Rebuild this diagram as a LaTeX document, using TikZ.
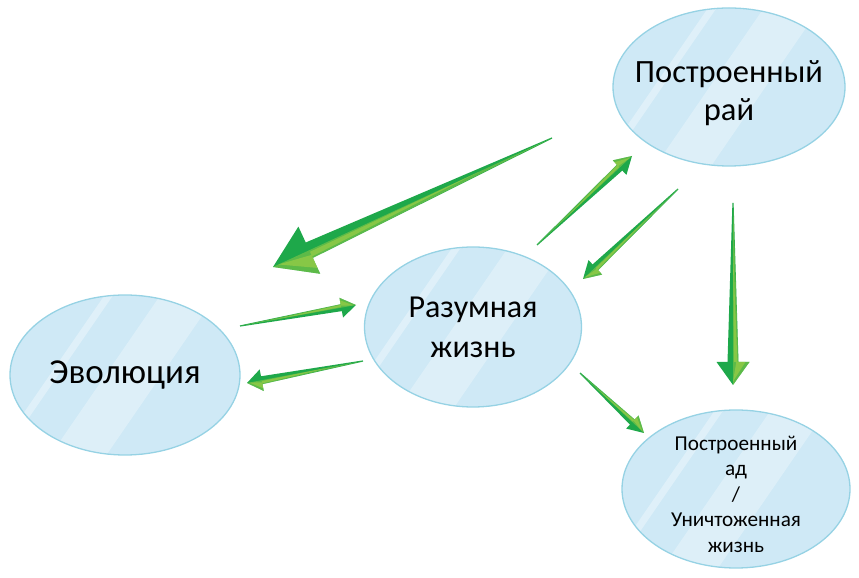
\documentclass[tikz,border=0pt]{standalone}
\usepackage{fontspec}
\setmainfont{Carlito}
\usetikzlibrary{shapes.geometric,calc}
\definecolor{bubblefill}{RGB}{207,233,246}
\definecolor{bubbleline}{RGB}{150,210,228}
\definecolor{gdark}{RGB}{30,168,74}
\definecolor{glight}{RGB}{170,210,70}
\tikzset{
  bubble/.style={ellipse,draw=bubbleline,line width=1.3pt,fill=bubblefill,inner sep=0pt,
    path picture={
      \coordinate (bc) at (path picture bounding box.center);
      \fill[white,opacity=.35] ($(bc)+(-34.5:-62)+(55.5:-200)$) -- ($(bc)+(-34.5:-62)+(55.5:200)$)
        -- ($(bc)+(-34.5:-55)+(55.5:200)$) -- ($(bc)+(-34.5:-55)+(55.5:-200)$) -- cycle;
      \fill[white,opacity=.3] ($(bc)+(-34.5:-16)+(55.5:-200)$) -- ($(bc)+(-34.5:-16)+(55.5:200)$)
        -- ($(bc)+(-34.5:30)+(55.5:200)$) -- ($(bc)+(-34.5:30)+(55.5:-200)$) -- cycle;
    }},
  btext/.style={align=center,inner sep=0pt},
  arrowbody/.style={fill=gdark},
  arrowmid/.style={fill=glight,opacity=.45},
  arrowshine/.style={fill=glight,opacity=.55},
}
% #1 tail, #2 tip, #3 head length, #4 head half width, #5 shaft half width
\newcommand\greenarrow[5]{%
  \coordinate (gh) at ($(#2)!#3!(#1)$);
  \fill[arrowbody]
    (#2) -- ($(gh)!#4!90:(#1)$) -- ($(gh)!#5!90:(#1)$)
    -- ($(#1)!0.6pt!-90:(#2)$) -- ($(#1)!0.6pt!90:(#2)$)
    -- ($(gh)!#5!-90:(#1)$) -- ($(gh)!#4!-90:(#1)$) -- cycle;
  \fill[arrowmid]
    (#2) -- ($(gh)!#4!-90:(#1)$) -- ($(gh)!#5!-90:(#1)$) -- (#1) -- cycle;
  \fill[arrowshine]
    ($(#2)!.15!(gh)$) -- ($(gh)!.75*#4!-90:(#1)$) -- ($(gh)!.2*#4!-90:(#1)$) -- cycle
    ($(gh)!.2*#5!-90:(#1)$) -- ($(gh)!.8*#5!-90:(#1)$) -- ($(#1)!.3!(gh)$) -- cycle;
}

\begin{document}
\begin{tikzpicture}[x=1pt,y=1pt]
  \useasboundingbox (0,0) rectangle (859,578);
  % the four bubbles
  \node[bubble,minimum width=230,minimum height=160] (evo)   at (125,203) {};
  \node[bubble,minimum width=217,minimum height=160] (razum) at (473,251) {};
  \node[bubble,minimum width=232,minimum height=158] (rai)   at (729,491) {};
  \node[bubble,minimum width=228,minimum height=158] (ad)    at (736,89)  {};
  \node[btext,font=\fontsize{35}{40}\selectfont] (evotext) at (evo) {Эволюция};
  \node[btext,font=\fontsize{32}{40}\selectfont] (razumtext) at (razum) {Разумная\\жизнь};
  \node[btext,font=\fontsize{32.5}{38}\selectfont] (raitext) at ([yshift=-6]rai) {Построенный\\рай};
  \node[btext,font=\fontsize{21.2}{25.5}\selectfont] (adtext) at ([yshift=-5]ad) {Построенный\\ад\\/\\Уничтоженная\\жизнь};
  % arrow ends
  \coordinate (bigtail) at (552,440);  \coordinate (bigtip) at (273,311);
  \coordinate (e2rtail) at (240,252);  \coordinate (e2rtip) at (356,273);
  \coordinate (r2etail) at (363,217);  \coordinate (r2etip) at (247,195);
  \coordinate (r2raitail) at (537,333); \coordinate (r2raitip) at (632,422);
  \coordinate (rai2rtail) at (678,389); \coordinate (rai2rtip) at (583,299);
  \coordinate (rai2adtail) at (733,375); \coordinate (rai2adtip) at (733,193);
  \coordinate (r2adtail) at (580,205); \coordinate (r2adtip) at (644,145);
  \greenarrow{bigtail}{bigtip}{40pt}{26pt}{8.5pt}
  \greenarrow{e2rtail}{e2rtip}{15pt}{10pt}{3.5pt}
  \greenarrow{r2etail}{r2etip}{15pt}{11pt}{4pt}
  \greenarrow{r2raitail}{r2raitip}{17pt}{10pt}{4pt}
  \greenarrow{rai2rtail}{rai2rtip}{17pt}{10pt}{4pt}
  \greenarrow{rai2adtail}{rai2adtip}{23pt}{16.5pt}{5.5pt}
  \greenarrow{r2adtail}{r2adtip}{16pt}{9pt}{3.5pt}
\end{tikzpicture}
\end{document}
